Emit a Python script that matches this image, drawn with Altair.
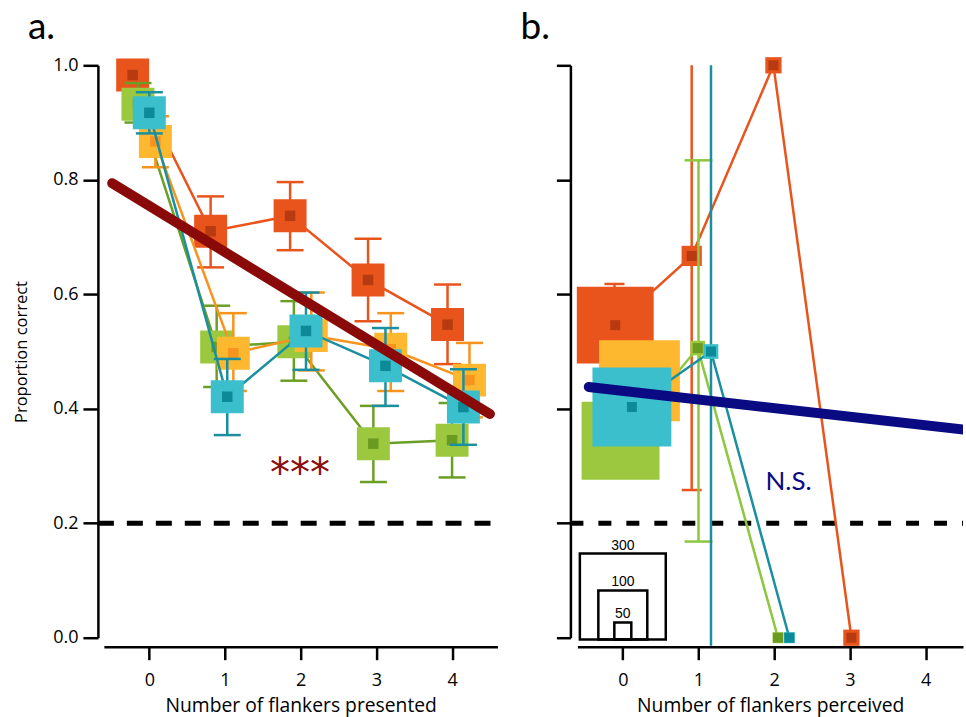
import altair as alt
import pandas as pd

FONT = "Lato"
AXFONT = "Open Sans"

# ---------------- panel a: proportion correct vs. number of flankers presented ----------------
series_names = ["red", "green", "yellow", "cyan"]

a_red_x = [-0.22, 0.81, 1.86, 2.89, 3.94]
a_red_y = [0.983, 0.710, 0.737, 0.625, 0.547]
a_red_lo = [0.970, 0.647, 0.677, 0.553, 0.478]
a_red_hi = [0.995, 0.771, 0.796, 0.697, 0.617]

a_green_x = [-0.15, 0.89, 1.91, 2.96, 4.00]
a_green_y = [0.932, 0.508, 0.517, 0.339, 0.345]
a_green_lo = [0.900, 0.438, 0.449, 0.272, 0.280]
a_green_hi = [0.969, 0.580, 0.588, 0.405, 0.410]

a_yellow_x = [0.08, 1.11, 2.14, 3.19, 4.23]
a_yellow_y = [0.867, 0.497, 0.528, 0.504, 0.450]
a_yellow_lo = [0.822, 0.431, 0.467, 0.431, 0.385]
a_yellow_hi = [0.911, 0.567, 0.603, 0.567, 0.515]

a_cyan_x = [0.00, 1.03, 2.07, 3.12, 4.15]
a_cyan_y = [0.917, 0.421, 0.536, 0.475, 0.403]
a_cyan_lo = [0.881, 0.354, 0.468, 0.405, 0.337]
a_cyan_hi = [0.953, 0.487, 0.603, 0.541, 0.469]

reg_a_x = [-0.49, 4.50]
reg_a_y = [0.794, 0.391]

# ---------------- panel b: proportion correct vs. number of flankers perceived ----------------
b_red_x = [-0.10, 0.91, 1.99, 3.02]
b_red_y = [0.546, 0.667, 1.000, 0.000]
b_red_n = [246, 17, 11, 11]

b_green_x = [-0.03, 0.99, 2.05]
b_green_y = [0.344, 0.506, 0.000]
b_green_n = [253, 9, 5]

b_yellow_x = [0.22]
b_yellow_y = [0.449]
b_yellow_n = [272]

b_cyan_x = [0.12, 1.165, 2.20]
b_cyan_y = [0.403, 0.500, 0.000]
b_cyan_n = [259, 9, 5]

b_err_series = ["red", "red", "green", "cyan"]
b_err_x = [-0.11, 0.91, 1.00, 1.165]
b_err_lo = [0.480, 0.258, 0.168, -0.014]
b_err_hi = [0.618, 1.000, 0.834, 1.000]

b_cap_series = ["red", "red", "green", "green"]
b_cap_x = [-0.11, 0.91, 1.00, 1.00]
b_cap_y = [0.618, 0.258, 0.834, 0.168]

reg_b_x = [-0.45, 4.60]
reg_b_y = [0.438, 0.362]

legend_n = [300, 100, 50]
legend_box_px = [86, 49, 17]

chance_level = [0.2]
x_ticks = [0, 1, 2, 3, 4]
y_ticks = [0.0, 0.2, 0.4, 0.6, 0.8, 1.0]
panel_labels = ["a.", "b."]

# ---------------- styles ----------------
fill = {"red": "#E8541C", "green": "#9BC83F", "yellow": "#FDB830", "cyan": "#3CBFCC"}
inner = {"red": "#B83A10", "green": "#6A9A1F", "yellow": "#F7941E", "cyan": "#0C8A98"}
line_a = {"red": "#E8541C", "green": "#6B9E24", "yellow": "#F7941E", "cyan": "#1A8FA0"}
line_b = {"red": "#E8541C", "green": "#8DC63F", "yellow": "#F7941E", "cyan": "#1A8FA0"}
cap_b = {"red": 20, "green": 28}

W_A, W_B, H = 394, 386, 573
PX_PER_X = W_A / 5.2
X_DOM_A = [-0.6, 4.6]
X_DOM_B = [-0.6, -0.6 + W_B / PX_PER_X]

yscale = alt.Scale(domain=[0, 1], nice=False, zero=False)


def xenc(domain, title, field="x"):
    return alt.X(
        field + ":Q",
        scale=alt.Scale(domain=domain, nice=False, zero=False),
        axis=alt.Axis(values=x_ticks, format="d", title=title, offset=9, tickSize=13,
                      labelPadding=12, titlePadding=7),
    )


def yenc(field, labels=True):
    if labels:
        ax = alt.Axis(values=y_ticks, format=".1f", title="Proportion correct", offset=6,
                      tickSize=15, labelPadding=5, titlePadding=23, titleFontSize=16.5)
    else:
        ax = alt.Axis(values=y_ticks, labels=False, title=None, offset=7, tickSize=14)
    return alt.Y(field + ":Q", scale=yscale, axis=ax)


def panel_label(text, dx):
    return alt.Chart(pd.DataFrame({"t": [text]})).mark_text(
        font=FONT, fontSize=37, color="black", align="left", baseline="alphabetic").encode(
        text="t:N", x=alt.value(dx), y=alt.value(-26))


# ---------------- panel a ----------------
rows = []
for s, xs, ys, los, his in [
    ("red", a_red_x, a_red_y, a_red_lo, a_red_hi),
    ("green", a_green_x, a_green_y, a_green_lo, a_green_hi),
    ("yellow", a_yellow_x, a_yellow_y, a_yellow_lo, a_yellow_hi),
    ("cyan", a_cyan_x, a_cyan_y, a_cyan_lo, a_cyan_hi),
]:
    for x, y, lo, hi in zip(xs, ys, los, his):
        rows.append({"series": s, "x": x, "y": y, "lo": lo, "hi": hi})
df_a = pd.DataFrame(rows)

XA = xenc(X_DOM_A, "Number of flankers presented")
layers_a = []
for s in series_names:
    b = alt.Chart(df_a).transform_filter(alt.datum.series == s)
    layers_a += [
        b.mark_rule(color=line_a[s], strokeWidth=2.5).encode(x=XA, y=yenc("lo"), y2="hi"),
        b.mark_tick(orient="horizontal", color=line_a[s], size=27, thickness=2.5, opacity=1).encode(x=XA, y=yenc("lo")),
        b.mark_tick(orient="horizontal", color=line_a[s], size=27, thickness=2.5, opacity=1).encode(x=XA, y=yenc("hi")),
        b.mark_line(color=line_a[s], strokeWidth=2.5).encode(x=XA, y=yenc("y")),
        b.mark_square(size=1089, color=fill[s], opacity=1).encode(x=XA, y=yenc("y")),
        b.mark_square(size=110, color=inner[s], opacity=1).encode(x=XA, y=yenc("y")),
    ]

chance_df = pd.DataFrame({"y": chance_level})
dash_a = alt.Chart(chance_df).mark_rule(color="black", strokeWidth=5, strokeDash=[16, 13]).encode(
    y=yenc("y"), x=alt.value(-6), x2=alt.value(W_A))
reg_a = alt.Chart(pd.DataFrame({"x": reg_a_x, "y": reg_a_y})).mark_line(
    color="#8A0A0A", strokeWidth=10, strokeCap="round").encode(x=XA, y=yenc("y"))
stars = alt.Chart(pd.DataFrame({"x": [1.99], "y": [0.305], "t": ["***"]})).mark_text(
    font="DejaVu Sans", fontSize=40, color="#8A1010", baseline="alphabetic", dy=24).encode(
    x=XA, y=yenc("y"), text="t:N")

panel_a = alt.layer(dash_a, *layers_a, reg_a, stars, panel_label(panel_labels[0], -76)).properties(
    width=W_A, height=H)

# ---------------- panel b ----------------
rows = []
for s, xs, ys, ns in [
    ("red", b_red_x, b_red_y, b_red_n),
    ("green", b_green_x, b_green_y, b_green_n),
    ("yellow", b_yellow_x, b_yellow_y, b_yellow_n),
    ("cyan", b_cyan_x, b_cyan_y, b_cyan_n),
]:
    for x, y, n in zip(xs, ys, ns):
        rows.append({"series": s, "x": x, "y": y, "n": n})
df_b = pd.DataFrame(rows)
df_err = pd.DataFrame({"series": b_err_series, "x": b_err_x, "lo": b_err_lo, "hi": b_err_hi})
df_cap = pd.DataFrame({"series": b_cap_series, "x": b_cap_x, "y": b_cap_y})

XB = xenc(X_DOM_B, "Number of flankers perceived")
size_enc = alt.Size("n:Q", scale=alt.Scale(domain=[0, 300], range=[0, 7225]), legend=None)
layers_b = []
for s in series_names:
    pts = alt.Chart(df_b).transform_filter(alt.datum.series == s)
    if s in b_err_series:
        layers_b.append(alt.Chart(df_err).transform_filter(alt.datum.series == s).mark_rule(
            color=line_b[s], strokeWidth=2.5).encode(x=XB, y=yenc("lo", False), y2="hi"))
    if s in b_cap_series:
        layers_b.append(alt.Chart(df_cap).transform_filter(alt.datum.series == s).mark_tick(
            orient="horizontal", color=line_b[s], size=cap_b[s], thickness=2.5, opacity=1).encode(
            x=XB, y=yenc("y", False)))
    layers_b += [
        pts.mark_line(color=line_b[s], strokeWidth=2.5).encode(x=XB, y=yenc("y", False)),
        pts.mark_square(color=fill[s], opacity=1).encode(x=XB, y=yenc("y", False), size=size_enc),
        pts.mark_square(size=100, color=inner[s], opacity=1).encode(x=XB, y=yenc("y", False)),
    ]

dash_b = alt.Chart(chance_df).mark_rule(color="black", strokeWidth=5, strokeDash=[13, 15]).encode(
    y=yenc("y", False), x=alt.value(-7), x2=alt.value(W_B))
reg_b = alt.Chart(pd.DataFrame({"x": reg_b_x, "y": reg_b_y})).mark_line(
    color="#0A0A82", strokeWidth=10, strokeCap="round", clip=True).encode(x=XB, y=yenc("y", False))
ns_text = alt.Chart(pd.DataFrame({"x": [2.19], "y": [0.272], "t": ["N.S."]})).mark_text(
    font=FONT, fontSize=26, color="#0A0A82", baseline="middle").encode(
    x=XB, y=yenc("y", False), text="t:N")

leg = pd.DataFrame({"n": legend_n, "side": legend_box_px})
leg_base = alt.Chart(leg).transform_calculate(
    x="-datum.side / 2 / %f" % PX_PER_X,
    x2="datum.side / 2 / %f" % PX_PER_X,
    xc="0",
    y="-0.003",
    y2="datum.side / %d - 0.003" % H,
    label="'' + datum.n",
)
leg_boxes = leg_base.mark_rect(filled=False, stroke="black", strokeWidth=2.5).encode(
    x=XB, x2="x2:Q", y=yenc("y", False), y2="y2:Q")
leg_text = leg_base.mark_text(font="Liberation Sans", fontSize=14, color="black",
                              baseline="bottom", dy=-1).encode(
    x=xenc(X_DOM_B, "Number of flankers perceived", "xc"),
    y=yenc("y2", False), text="label:N")

panel_b = alt.layer(dash_b, *layers_b, reg_b, ns_text, leg_boxes, leg_text,
                    panel_label(panel_labels[1], -57)).properties(width=W_B, height=H)

chart = alt.hconcat(panel_a, panel_b, spacing=80, bounds="flush").properties(
    padding={"left": 13, "top": 9, "right": 0, "bottom": 0}
).configure_view(stroke=None).configure_axis(
    grid=False, domainColor="black", domainWidth=2.5, tickColor="black", tickWidth=2.5,
    labelFont=AXFONT, labelFontSize=18, labelColor="black",
    titleFont=AXFONT, titleFontSize=19.3, titleColor="black", titleFontWeight="normal",
)

chart.save("out.html", embed_options={"renderer": "svg", "actions": False})
